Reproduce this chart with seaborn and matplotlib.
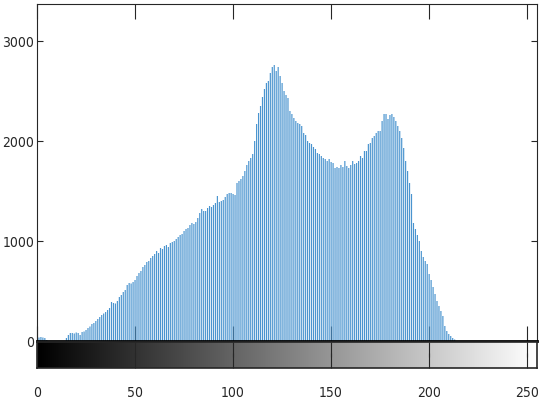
#!/usr/bin/python3

import numpy as np
import pandas as pd
import matplotlib
matplotlib.use('Agg')
import matplotlib.pyplot as plt
from matplotlib import font_manager
import seaborn as sns

# gray levels 0..255 and the pixel count
levels = list(range(256))
counts = [
    20, 35, 40, 35, 30, 10, 0, 0, 0, 0,
    0, 0, 0, 0, 0, 30, 60, 80, 80, 75,
    85, 80, 60, 90, 95, 110, 130, 145, 170, 180,
    200, 220, 240, 260, 275, 290, 310, 330, 390, 380,
    375, 400, 440, 460, 490, 510, 560, 580, 575, 590,
    610, 650, 680, 700, 740, 760, 790, 800, 830, 850,
    870, 900, 880, 930, 920, 950, 960, 940, 980, 990,
    1000, 1020, 1040, 1060, 1070, 1100, 1120, 1130, 1160, 1180,
    1170, 1190, 1230, 1280, 1320, 1300, 1300, 1330, 1350, 1340,
    1360, 1380, 1450, 1390, 1400, 1410, 1440, 1470, 1480, 1480,
    1470, 1460, 1580, 1600, 1620, 1650, 1700, 1760, 1800, 1830,
    1870, 2000, 2170, 2280, 2350, 2440, 2520, 2580, 2600, 2680,
    2740, 2760, 2700, 2740, 2650, 2580, 2500, 2460, 2430, 2300,
    2270, 2230, 2200, 2180, 2170, 2150, 2080, 2060, 2000, 1980,
    1970, 1940, 1920, 1880, 1870, 1850, 1830, 1820, 1800, 1820,
    1790, 1780, 1730, 1740, 1730, 1760, 1740, 1800, 1750, 1730,
    1760, 1800, 1770, 1780, 1800, 1850, 1830, 1900, 1900, 1970,
    1980, 2030, 2050, 2080, 2100, 2100, 2200, 2270, 2270, 2220,
    2260, 2270, 2240, 2200, 2150, 2100, 2030, 1930, 1800, 1700,
    1580, 1470, 1180, 1120, 1060, 1000, 900, 840, 800, 770,
    670, 610, 540, 470, 400, 350, 300, 250, 150, 100,
    70, 50, 30, 15,
] + [0] * 42
yticks = [0, 1000, 2000, 3000]
xticks = [0, 50, 100, 150, 200, 250]

df = pd.DataFrame({'level': levels, 'count': counts})

sns.set_style('white')

# the reference uses a narrow sans; take the narrowest one installed
fonts = font_manager.fontManager.ttflist
names = {f.name for f in fonts}
stretch = 'normal'
if 'Liberation Sans Narrow' in names:
    family, size = 'Liberation Sans Narrow', 12.5
elif any(f.name == 'DejaVu Sans' and f.stretch == 'condensed' for f in fonts):
    family, size, stretch = 'DejaVu Sans', 10, 'condensed'
else:
    family, size = 'Liberation Sans', 10.5
plt.rcParams['font.family'] = [family, 'DejaVu Sans']
plt.rcParams['font.stretch'] = stretch

W, H = 543, 415
fig = plt.figure(figsize=(W / 100, H / 100), dpi=100)
ax = fig.add_axes([37 / W, (H - 341) / H, 500 / W, 337 / H])
cax = fig.add_axes([37 / W, (H - 368) / H, 500 / W, 26 / H])

sns.barplot(data=df, x='level', y='count', native_scale=True, width=0.6,
            color='#4a94cf', saturation=1, linewidth=0, ax=ax)
for p in ax.patches:
    p.set_snap(False)
ax.set_xlim(0, 255)
ax.set_ylim(0, 3370)
ax.set_xlabel('')
ax.set_ylabel('')
ax.set_yticks(yticks)
ax.set_xticks(xticks)
ax.tick_params(axis='x', direction='in', length=11, width=0.8, colors='#262626',
               top=True, bottom=True, labelbottom=False)
ax.tick_params(axis='y', direction='in', length=4, width=0.8, colors='#262626',
               left=True, right=True, labelsize=size, pad=2)
for s in ax.spines.values():
    s.set_color('#262626')
    s.set_linewidth(0.8)
ax.spines['bottom'].set_color('black')
ax.spines['bottom'].set_linewidth(2)

# gray colour bar below the histogram
grad = np.linspace(0, 1, 256).reshape(1, -1)
cax.imshow(grad, cmap='gray', aspect='auto', extent=[0, 255, 0, 1])
cax.set_xlim(0, 255)
cax.set_yticks([])
cax.set_xticks(xticks)
cax.tick_params(axis='x', direction='in', length=11, width=0.8, colors='#262626',
                top=True, bottom=True, labelsize=size, pad=13)
for s in cax.spines.values():
    s.set_color('#262626')
    s.set_linewidth(1.2)

fig.savefig('out.png', dpi=100)
